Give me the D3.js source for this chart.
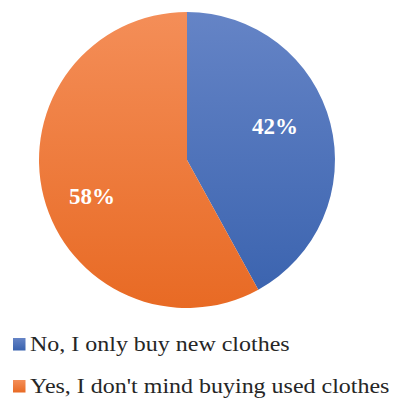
<!DOCTYPE html>
<html>
<head>
<meta charset="utf-8">
<script src="https://cdn.jsdelivr.net/npm/d3@7"></script>
<style>
  html, body { margin: 0; padding: 0; background: #fff; }
  svg { display: block; }
</style>
</head>
<body>
<svg id="chart" width="395" height="400"></svg>
<script>
// Survey answers and their shares (percent)
const categories = ["No, I only buy new clothes", "Yes, I don't mind buying used clothes"];
const values = [42, 58];
const colorsTop = ["#6584c6", "#f48e58"];
const colorsBottom = ["#3962ae", "#e86a24"];

const serif = "Liberation Serif";
const svg = d3.select("#chart");
const cx = 187, cy = 160, radius = 148;

// Vertical gradients for each slice (coordinates relative to the pie centre)
const defs = svg.append("defs");
categories.forEach((c, i) => {
  const g = defs.append("linearGradient")
    .attr("id", "grad" + i)
    .attr("gradientUnits", "userSpaceOnUse")
    .attr("x1", 0).attr("y1", -radius)
    .attr("x2", 0).attr("y2", radius);
  g.append("stop").attr("offset", "0%").attr("stop-color", colorsTop[i]);
  g.append("stop").attr("offset", "100%").attr("stop-color", colorsBottom[i]);
  const lg = defs.append("linearGradient")
    .attr("id", "leg" + i)
    .attr("x1", 0).attr("y1", 0).attr("x2", 0).attr("y2", 1);
  lg.append("stop").attr("offset", "0%").attr("stop-color", colorsTop[i]);
  lg.append("stop").attr("offset", "100%").attr("stop-color", colorsBottom[i]);
});

const pie = d3.pie().sort(null).value(d => d)(values);
const arc = d3.arc().innerRadius(0).outerRadius(radius);

const g = svg.append("g").attr("transform", `translate(${cx},${cy})`);

g.selectAll("path.slice")
  .data(pie)
  .join("path")
  .attr("class", "slice")
  .attr("d", arc)
  .attr("fill", (d, i) => `url(#grad${i})`);

// Percentage labels inside the slices
const labelR = 98, angleShift = -0.115;
g.selectAll("text.pct")
  .data(pie)
  .join("text")
  .attr("class", "pct")
  .attr("x", d => labelR * Math.sin((d.startAngle + d.endAngle) / 2 + angleShift) - 3.5)
  .attr("y", d => -labelR * Math.cos((d.startAngle + d.endAngle) / 2 + angleShift) + 1.2)
  .attr("dy", "0.34em")
  .attr("text-anchor", "middle")
  .attr("font-family", serif)
  .attr("font-weight", "bold")
  .attr("font-size", 23)
  .attr("fill", "#ffffff")
  .text(d => d.data + "%");

// Legend
const legend = svg.append("g").attr("transform", "translate(13,338)");
const rowH = 42;
const items = legend.selectAll("g.item")
  .data(categories)
  .join("g")
  .attr("class", "item")
  .attr("transform", (d, i) => `translate(0,${i * rowH})`);

items.append("rect")
  .attr("x", 0).attr("y", 0)
  .attr("width", 12.5).attr("height", 12.5)
  .attr("fill", (d, i) => `url(#leg${i})`);

items.append("text")
  .attr("transform", "translate(17,13.3) scale(1.09,1)")
  .attr("font-family", serif)
  .attr("font-size", 22)
  .attr("fill", "#262626")
  .text(d => d);
</script>
</body>
</html>
